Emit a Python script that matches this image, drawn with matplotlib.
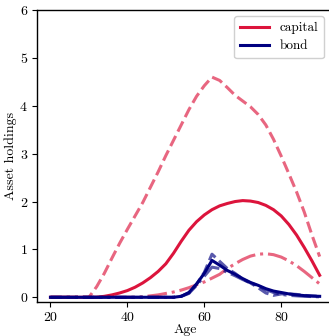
import numpy as np
import matplotlib
matplotlib.use("Agg")
import matplotlib.pyplot as plt

plt.rcParams["font.family"] = "serif"
plt.rcParams["font.serif"] = ["cmr10"]
plt.rcParams["mathtext.fontset"] = "cm"
plt.rcParams["axes.formatter.use_mathtext"] = True
plt.rcParams["font.size"] = 10

# Life-cycle asset holdings by age (two-year grid)
age = [20, 22, 24, 26, 28, 30, 32, 34, 36, 38, 40, 42, 44, 46, 48, 50, 52, 54,
       56, 58, 60, 62, 64, 66, 68, 70, 72, 74, 76, 78, 80, 82, 84, 86, 88, 90]

capital_mean = [0, 0, 0, 0, 0, 0, 0, 0.02, 0.05, 0.09, 0.14, 0.21, 0.30, 0.41,
                0.54, 0.70, 0.92, 1.17, 1.40, 1.58, 1.72, 1.83, 1.91, 1.96, 2.0,
                2.02, 2.01, 1.98, 1.92, 1.83, 1.70, 1.52, 1.30, 1.04, 0.76, 0.46]
capital_high = [0, 0, 0, 0, 0, 0, 0.22, 0.5, 0.82, 1.13, 1.42, 1.7, 1.98, 2.3,
                2.62, 2.96, 3.28, 3.6, 3.92, 4.2, 4.42, 4.6, 4.53, 4.38, 4.22,
                4.1, 3.98, 3.82, 3.6, 3.3, 2.95, 2.58, 2.2, 1.78, 1.3, 0.85]
capital_low = [0, 0, 0, 0, 0, 0, 0, 0, 0, 0, 0, 0, 0.01, 0.03, 0.05, 0.08,
               0.11, 0.15, 0.2, 0.26, 0.32, 0.4, 0.48, 0.6, 0.7, 0.79, 0.86,
               0.9, 0.91, 0.89, 0.84, 0.76, 0.66, 0.54, 0.41, 0.28]

bond_mean = [0, 0, 0, 0, 0, 0, 0, 0, 0, 0, 0, 0, 0, 0, 0, 0, 0, 0.02, 0.1, 0.28,
             0.5, 0.77, 0.67, 0.56, 0.48, 0.39, 0.31, 0.25, 0.18, 0.13, 0.1, 0.07,
             0.05, 0.035, 0.025, 0.02]
bond_high = [0, 0, 0, 0, 0, 0, 0, 0, 0, 0, 0, 0, 0, 0, 0, 0, 0, 0.02, 0.09, 0.27,
             0.52, 0.9, 0.75, 0.6, 0.5, 0.38, 0.3, 0.2, 0.09, 0.04, 0.07, 0.07,
             0.06, 0.04, 0.03, 0.02]
bond_low = [0, 0, 0, 0, 0, 0, 0, 0, 0, 0, 0, 0, 0, 0, 0, 0, 0, 0.02, 0.08, 0.25,
            0.44, 0.63, 0.6, 0.52, 0.45, 0.37, 0.3, 0.24, 0.16, 0.1, 0.06, 0.04,
            0.03, 0.02, 0.015, 0.01]

fig = plt.figure(figsize=(3.29, 3.36), dpi=100)
ax = fig.add_axes([0.1125, 0.101, 0.9, 0.869])

crimson = "crimson"
navy = "navy"
lw = 2.2

ax.plot(age, capital_mean, color=crimson, lw=lw, label="capital")
ax.plot(age, capital_high, color=crimson, lw=lw, ls="--", alpha=0.65)
ax.plot(age, capital_low, color=crimson, lw=lw, ls="-.", alpha=0.65)
ax.plot(age, bond_high, color=navy, lw=lw, ls="--", alpha=0.65)
ax.plot(age, bond_low, color=navy, lw=lw, ls="-.", alpha=0.65)
ax.plot(age, bond_mean, color=navy, lw=lw, label="bond")

ax.set_ylim(-0.1, 6)
ax.set_xticks([20, 40, 60, 80])
ax.set_yticks([0, 1, 2, 3, 4, 5, 6])
ax.set_xlabel("Age", labelpad=0)
ax.set_ylabel("Asset holdings", labelpad=2)
ax.tick_params(length=3.5, width=0.8, pad=3)
for s in ax.spines.values():
    s.set_linewidth(1.0)

ax.legend(loc="upper right", bbox_to_anchor=(324 / 329, 1 - 16 / 336),
          bbox_transform=fig.transFigure, borderaxespad=0, fontsize=9.5,
          frameon=True, fancybox=True, edgecolor="#d0d0d0", framealpha=1.0,
          handlelength=2.2, borderpad=0.45, labelspacing=0.45)

fig.savefig("out.png", dpi=100)
